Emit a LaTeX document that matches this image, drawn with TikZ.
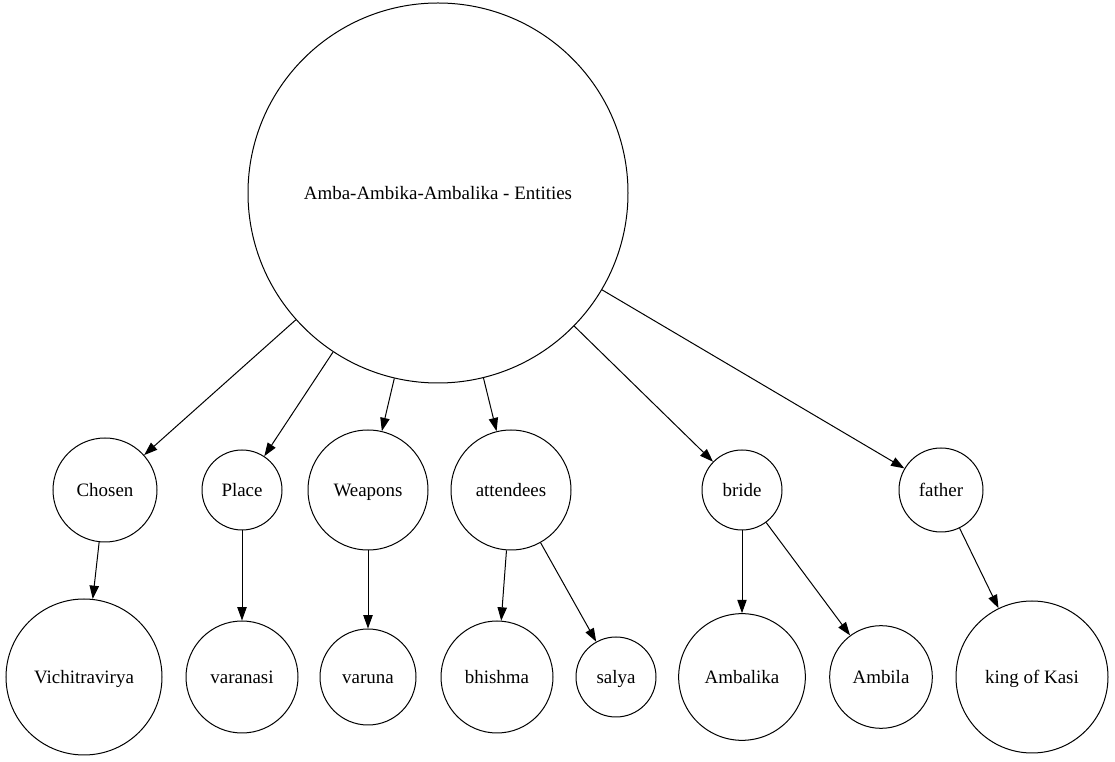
\documentclass[tikz,border=0pt]{standalone}
\usepackage{fontspec}
\setmainfont{Liberation Serif}
\usetikzlibrary{arrows.meta,positioning}

\begin{document}
\begin{tikzpicture}[x = 0.75pt, y = -0.75pt, > = {Triangle[length = 10pt, width = 7pt]},
    ent/.style = {draw, shape = circle, inner sep = 0pt, line width = 0.75pt, text height = 13pt, text depth = 3pt, font = \fontsize{14.2}{17}\selectfont},
    lien/.style = {->, line width = 0.75pt}]
    \useasboundingbox (0,0) rectangle (1115,762);
    \node at (438,193) [ent, minimum size = 285pt] (root) {Amba-Ambika-Ambalika - Entities};
    \node at (105,490) [ent, minimum size = 78pt] (chosen) {Chosen};
    \node at (242,490) [ent, minimum size = 60pt] (place) {Place};
    \node at (368,490) [ent, minimum size = 90pt] (weap) {Weapons};
    \node at (511,490) [ent, minimum size = 90pt] (att) {attendees};
    \node at (742,490) [ent, minimum size = 60pt] (bride) {bride};
    \node at (941,490) [ent, minimum size = 63pt] (father) {father};
    \node at (84,677) [ent, minimum size = 117pt] (vichi) {Vichitravirya};
    \node at (242,677) [ent, minimum size = 84pt] (vara) {varanasi};
    \node at (368,677) [ent, minimum size = 72pt] (varu) {varuna};
    \node at (497,677) [ent, minimum size = 84pt] (bhis) {bhishma};
    \node at (616,677) [ent, minimum size = 60pt] (salya) {salya};
    \node at (742,677) [ent, minimum size = 95pt] (ambal) {Ambalika};
    \node at (881,677) [ent, minimum size = 77pt] (ambi) {Ambila};
    \node at (1032,677) [ent, minimum size = 114pt] (kasi) {king of Kasi};
    \draw[lien] (root) -- (chosen);
    \draw[lien] (root) -- (place);
    \draw[lien] (root) -- (weap);
    \draw[lien] (root) -- (att);
    \draw[lien] (root) -- (bride);
    \draw[lien] (root) -- (father);
    \draw[lien] (chosen) -- (vichi);
    \draw[lien] (place) -- (vara);
    \draw[lien] (weap) -- (varu);
    \draw[lien] (att) -- (bhis);
    \draw[lien] (att) -- (salya);
    \draw[lien] (bride) -- (ambal);
    \draw[lien] (bride) -- (ambi);
    \draw[lien] (father) -- (kasi);
  \end{tikzpicture}
\end{document}
